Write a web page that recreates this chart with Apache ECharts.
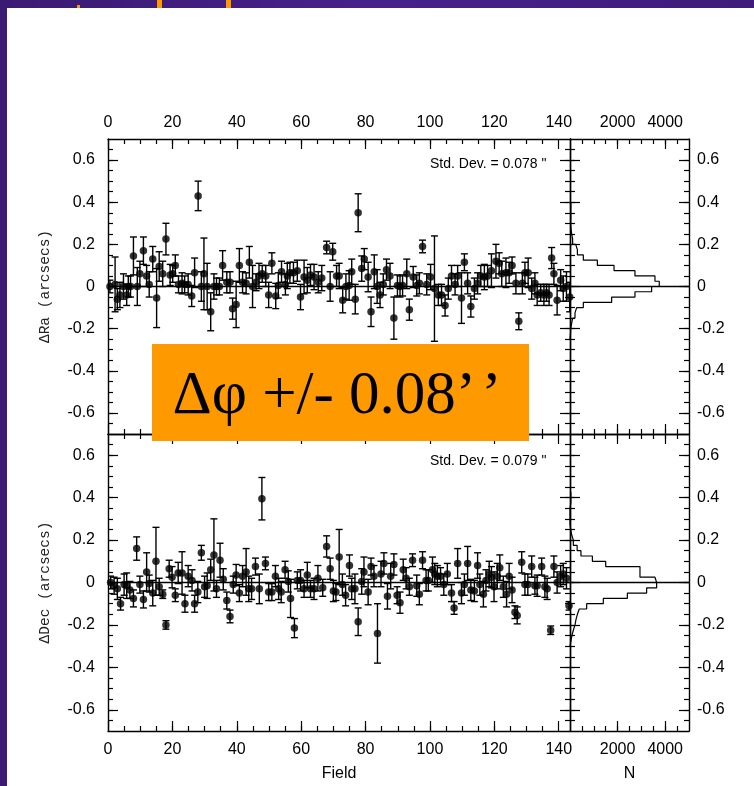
<!DOCTYPE html>
<html><head><meta charset="utf-8">
<script src="https://cdn.jsdelivr.net/npm/echarts@6/dist/echarts.min.js"></script>
<style>
html,body{margin:0;padding:0;background:#3f1f7c;}
#wrap{position:relative;width:754px;height:786px;overflow:hidden;background:linear-gradient(90deg,#3a1a72,#45228a 50%,#3d1c7a);}
#paper{position:absolute;left:7px;top:8px;right:0;bottom:0;background:#fff;}
.frag{position:absolute;background:#ff9900;}
#chart{position:absolute;left:0;top:0;width:754px;height:786px;}
</style></head><body>
<div id="wrap">
<div id="paper"></div>
<div class="frag" style="left:157px;top:0;width:5px;height:8px"></div>
<div class="frag" style="left:226px;top:0;width:5px;height:8px"></div>
<div class="frag" style="left:77px;top:5px;width:3px;height:3px"></div>
<div id="chart"></div>
</div>
<script>
// ---------- data ----------
const raField = [0.6,2.2,2.9,3.7,4.8,5.8,6.3,7.0,7.9,9.1,
 9.9,11.0,12.0,12.8,13.9,15.1,15.9,17.0,18.0,19.3,
 20.1,20.9,21.9,23.0,23.8,24.9,26.0,26.9,28.0,29.0,
 29.8,30.8,31.9,32.9,33.7,34.6,35.6,36.9,37.9,38.7,
 39.8,40.8,41.8,42.9,43.9,44.9,46.0,46.9,47.9,49.0,
 49.9,50.9,52.1,52.9,53.9,55.1,55.7,56.5,57.6,58.8,
 59.8,60.9,61.9,62.9,64.0,65.3,66.4,67.9,69.0,69.8,
 71.0,71.8,72.9,73.9,74.9,75.7,76.8,77.7,78.8,79.6,
 80.8,81.7,82.7,83.6,84.5,85.5,86.5,87.6,88.8,89.9,
 90.7,91.5,92.8,93.6,94.8,95.9,96.7,97.7,99.0,100.2,
 101.4,102.6,103.6,104.7,105.7,106.7,107.8,108.6,109.8,110.7,
 111.7,112.7,113.8,114.8,115.8,116.9,117.9,119.1,120.5,121.5,
 122.3,123.6,124.6,125.5,126.7,127.6,128.7,129.5,130.5,131.6,
 132.6,133.3,134.4,135.4,136.2,137.0,137.8,138.5,139.5,140.6,
 141.4,142.4,143.4];
const raVal = [0.00,0.01,-0.06,-0.04,0.00,-0.04,0.00,0.00,0.145,0.00,
 0.06,0.17,0.05,0.01,0.13,-0.055,0.095,0.06,0.225,0.055,
 0.06,0.10,0.01,0.015,0.01,0.01,-0.045,0.065,0.43,0.00,
 0.06,0.00,-0.12,0.00,0.00,0.00,0.10,0.02,0.02,-0.105,
 -0.085,0.10,0.02,0.015,0.115,0.00,0.02,0.05,0.06,0.05,
 -0.04,0.11,-0.045,0.005,0.07,0.01,0.05,0.065,0.065,0.075,
 -0.05,0.045,0.03,0.055,0.045,0.02,0.04,0.185,0.00,0.165,
 0.05,0.05,-0.065,0.00,0.005,0.07,-0.06,0.35,0.085,0.13,
 0.045,-0.12,0.07,0.00,-0.04,0.01,0.08,0.05,-0.15,0.005,
 0.00,0.005,0.06,-0.11,0.045,0.005,0.015,0.19,0.01,0.045,
 -0.01,-0.04,-0.04,-0.09,-0.01,0.05,0.01,0.05,-0.055,0.115,
 0.015,-0.095,-0.01,0.015,0.05,0.045,0.05,0.075,0.12,0.11,
 0.06,0.065,0.065,0.10,0.015,-0.165,0.015,0.065,0.065,-0.01,
 0.015,-0.04,-0.03,-0.04,-0.03,-0.04,0.135,0.06,-0.065,0.03,
 -0.01,0.00,-0.05];
const raErr = [0.03,0.13,0.05,0.06,0.06,0.05,0.05,0.05,0.09,0.09,
 0.06,0.065,0.05,0.06,0.06,0.14,0.07,0.06,0.075,0.05,
 0.04,0.05,0.04,0.05,0.04,0.05,0.05,0.07,0.07,0.07,
 0.17,0.11,0.09,0.06,0.04,0.04,0.07,0.05,0.05,0.05,
 0.11,0.08,0.05,0.05,0.075,0.10,0.04,0.06,0.04,0.05,
 0.06,0.05,0.06,0.06,0.05,0.05,0.06,0.05,0.05,0.05,
 0.06,0.08,0.06,0.05,0.06,0.05,0.06,0.03,0.07,0.04,
 0.05,0.06,0.06,0.06,0.07,0.06,0.07,0.09,0.06,0.05,
 0.07,0.07,0.08,0.08,0.06,0.05,0.05,0.06,0.10,0.05,
 0.05,0.05,0.07,0.05,0.05,0.05,0.05,0.03,0.05,0.06,
 0.25,0.05,0.05,0.05,0.05,0.05,0.05,0.05,0.12,0.04,
 0.05,0.05,0.05,0.05,0.05,0.06,0.05,0.08,0.08,0.05,
 0.06,0.07,0.05,0.04,0.05,0.04,0.05,0.05,0.07,0.05,
 0.05,0.05,0.04,0.05,0.04,0.05,0.05,0.05,0.07,0.05,
 0.06,0.07,0.07];

const decField = [0.8,1.9,2.9,3.9,5.0,5.8,6.8,7.9,8.9,9.9,
 11.0,12.0,12.8,13.9,14.9,15.9,17.0,18.0,19.0,19.9,
 20.9,21.8,23.0,23.9,24.9,26.1,26.9,27.9,29.0,30.0,
 30.8,31.9,32.9,33.7,34.8,35.8,36.9,37.9,38.9,39.8,
 40.8,41.8,42.9,43.7,44.6,45.8,47.0,47.8,48.9,49.9,
 50.9,52.0,53.0,53.8,55.0,56.0,56.7,57.9,58.8,59.8,
 60.9,61.9,62.9,64.0,65.2,66.7,67.9,69.0,70.0,70.8,
 71.8,72.8,73.8,75.0,75.7,76.7,77.7,78.8,79.5,80.8,
 81.7,82.6,83.7,84.8,85.7,86.8,87.8,88.8,89.8,90.7,
 91.7,92.6,93.6,94.6,95.9,96.7,97.7,98.8,99.5,100.8,
 101.5,102.3,103.3,104.3,105.4,106.7,107.5,108.6,109.8,110.7,
 111.7,112.7,113.8,114.8,115.5,116.6,117.4,118.4,119.1,119.9,
 120.9,121.7,122.8,123.8,124.6,125.5,126.4,127.1,128.5,129.5,
 130.4,131.6,132.6,133.3,134.7,135.7,136.4,137.5,138.5,139.5,
 140.6,141.4,142.4,143.2];
const decVal = [0.00,-0.015,-0.03,-0.10,-0.01,-0.015,-0.035,-0.075,0.16,-0.01,
 -0.08,0.05,-0.005,-0.05,0.10,-0.02,-0.055,-0.20,0.065,0.025,
 -0.06,0.045,0.045,-0.10,0.03,0.01,-0.10,-0.045,0.14,-0.02,
 -0.015,0.06,0.13,-0.03,0.105,0.015,-0.085,-0.16,-0.01,0.035,
 -0.05,0.03,0.05,-0.03,-0.03,0.075,-0.03,0.395,0.09,-0.045,
 -0.045,0.03,-0.03,-0.045,0.06,0.005,-0.075,-0.215,0.01,0.01,
 -0.03,0.035,-0.03,-0.03,0.02,-0.025,0.17,0.065,-0.04,-0.045,
 0.12,-0.01,-0.06,0.08,-0.03,-0.03,-0.185,0.005,0.05,-0.045,
 0.075,0.03,-0.24,0.04,0.09,-0.065,0.03,0.085,-0.06,-0.095,
 0.06,0.02,-0.02,0.105,-0.015,-0.055,0.105,0.01,0.01,0.06,
 0.04,0.03,0.03,-0.01,0.04,-0.05,-0.12,0.09,-0.05,-0.01,
 0.09,-0.035,-0.04,0.08,-0.01,-0.055,0.01,0.04,0.025,-0.02,
 0.03,0.07,-0.02,-0.055,0.03,-0.035,-0.14,-0.155,0.095,-0.01,
 -0.01,0.075,-0.015,-0.015,0.075,-0.02,-0.03,-0.225,0.075,0.00,
 0.03,0.04,0.02,-0.11];
const decErr = [0.03,0.04,0.05,0.03,0.05,0.06,0.04,0.04,0.055,0.04,
 0.04,0.09,0.04,0.06,0.16,0.04,0.02,0.02,0.04,0.05,
 0.03,0.05,0.10,0.04,0.05,0.05,0.04,0.05,0.035,0.05,
 0.06,0.05,0.17,0.04,0.08,0.05,0.04,0.03,0.04,0.05,
 0.04,0.05,0.11,0.06,0.05,0.04,0.07,0.10,0.03,0.04,
 0.04,0.05,0.05,0.05,0.04,0.05,0.09,0.045,0.04,0.05,
 0.04,0.06,0.04,0.05,0.06,0.04,0.05,0.05,0.05,0.04,
 0.13,0.05,0.05,0.05,0.05,0.07,0.065,0.06,0.07,0.06,
 0.04,0.05,0.14,0.06,0.05,0.06,0.06,0.05,0.04,0.05,
 0.05,0.05,0.04,0.03,0.05,0.05,0.04,0.05,0.05,0.06,
 0.05,0.05,0.04,0.05,0.05,0.04,0.03,0.07,0.05,0.05,
 0.08,0.05,0.05,0.06,0.05,0.06,0.05,0.06,0.05,0.07,
 0.06,0.06,0.05,0.06,0.06,0.06,0.03,0.04,0.05,0.05,
 0.05,0.05,0.04,0.05,0.04,0.05,0.05,0.02,0.05,0.05,
 0.05,0.05,0.05,0.02];

// histograms: bin lower edges (width 0.025) and counts N
const histBinWidth = 0.025;
const raHistLo = [-0.25,-0.225,-0.2,-0.175,-0.15,-0.125,-0.1,-0.075,-0.05,-0.025,
 0,0.025,0.05,0.075,0.1,0.125,0.15,0.175,0.2,0.225,0.25,0.275,0.3,0.325,0.35,0.375];
const raHistN = [20,30,70,110,210,280,560,1750,2730,3430,
 3750,3570,2730,1850,1150,560,310,240,110,70,40,30,35,35,35,35];
const decHistLo = [-0.3,-0.275,-0.25,-0.225,-0.2,-0.175,-0.15,-0.125,-0.1,-0.075,-0.05,-0.025,
 0,0.025,0.05,0.075,0.1,0.125,0.15,0.175,0.2,0.225,0.25,0.275,0.3,0.325,0.35,0.375,0.4];
const decHistN = [40,80,140,210,250,310,390,700,1400,2410,3220,3640,
 3570,2940,2940,1500,940,460,300,140,70,30,0,0,0,0,35,35,35];

// ticks / labels
const fieldRange = [0, 143.5];
const nRange = [0, 5000];
const offRange = [-0.7, 0.7];
const fieldMajor = [0,20,40,60,80,100,120,140];
const fieldStep = 5;
const nMajor = [2000,4000];
const nStep = 500;
const offMajor = [-0.6,-0.4,-0.2,0,0.2,0.4,0.6];
const offStep = 0.05;
const stdRa = 'Std. Dev. = 0.078 "';
const stdDec = 'Std. Dev. = 0.079 "';
const boxText = 'Δφ +/- 0.08’\u200A’';

function minorList(lo, hi, step){
  const out=[]; const n=Math.round((hi-lo)/step);
  for(let k=1;k<n;k++){ out.push(+(lo+k*step).toFixed(4)); }
  return out;
}
const fieldMinor = minorList(0, 140, fieldStep);
const nMinor = minorList(0, 5000, nStep);
const offMinor = minorList(-0.7, 0.7, offStep);

// ---------- layout ----------
const grids = [
  {left:108, top:139, width:462, height:295},
  {left:570, top:139, width:119, height:295},
  {left:108, top:434, width:462, height:297},
  {left:570, top:434, width:119, height:297}
];
const FONT = '"Liberation Sans", Arial, Helvetica, sans-serif';
const xAxes=[], yAxes=[];
function mk(grid, pos, range, tickVals, len, labelVals, labelOpt, lineShow, extra){
  const a = {
    type:'value', gridIndex:grid, position:pos, min:range[0], max:range[1],
    axisLine:{show:lineShow, onZero:false, lineStyle:{color:'#000', width:1.4}},
    axisTick:{show:true, inside:true, length:len, customValues:tickVals, lineStyle:{color:'#000', width:1.2}},
    minorTick:{show:false}, splitLine:{show:false},
    axisLabel: labelVals ? Object.assign({show:true, customValues:labelVals, color:'#000',
      fontSize:16, fontFamily:FONT, formatter:function(v){return String(+(+v).toFixed(2));}}, labelOpt||{}) : {show:false}
  };
  if(extra) Object.assign(a, extra);
  return a;
}
const axisRef = [];
for(let g=0; g<4; g++){
  const isMain = g%2===0, isTop = g<2;
  const xr = isMain ? fieldRange : nRange;
  const xMaj = isMain ? fieldMajor : nMajor;
  const xMin = isMain ? fieldMinor : nMinor;
  const nameX = isMain ? 'Field' : 'N';
  xAxes.push(mk(g,'top',xr,xMaj,10, isTop?xMaj:null, {margin:8}, true));
  xAxes.push(mk(g,'top',xr,xMin,5, null, null, false));
  const bx = xAxes.length;
  xAxes.push(mk(g,'bottom',xr,xMaj,10, isTop?null:xMaj, {margin:11}, true,
     isTop?null:{name:nameX, nameLocation:'middle', nameGap:35,
     nameTextStyle:{color:'#000', fontSize:16, fontFamily:FONT}}));
  xAxes.push(mk(g,'bottom',xr,xMin,5, null, null, false));
  const ly = yAxes.length;
  yAxes.push(mk(g,'left',offRange,offMajor,10, isMain?offMajor:null, {margin:13}, true,
     isMain?{name: g===0?'ΔRa (arcsecs)':'ΔDec (arcsecs)', nameLocation:'middle', nameRotate:90, nameGap:55,
     nameTextStyle:{color:'#222', fontSize:14.5, fontFamily:'"Liberation Mono", "DejaVu Sans Mono", monospace'}}:null));
  yAxes.push(mk(g,'left',offRange,offMinor,5, null, null, false));
  yAxes.push(mk(g,'right',offRange,offMajor,10, isMain?null:offMajor, {margin:8}, true));
  yAxes.push(mk(g,'right',offRange,offMinor,5, null, null, false));
  axisRef.push({x:bx, y:ly});
}

function errSeries(ref, fields, vals, errs){
  return {
    type:'custom', xAxisIndex:ref.x, yAxisIndex:ref.y, z:3, clip:true,
    data: fields.map(function(f,i){return [f, vals[i]-errs[i], vals[i]+errs[i]];}),
    encode:{x:0, y:[1,2]},
    renderItem:function(params, api){
      const x = api.value(0);
      const lo = api.coord([x, api.value(1)]);
      const hi = api.coord([x, api.value(2)]);
      const w = 3.5, st = {stroke:'#000', lineWidth:1.4};
      return {type:'group', children:[
        {type:'line', shape:{x1:lo[0],y1:lo[1],x2:hi[0],y2:hi[1]}, style:st},
        {type:'line', shape:{x1:lo[0]-w,y1:lo[1],x2:lo[0]+w,y2:lo[1]}, style:st},
        {type:'line', shape:{x1:hi[0]-w,y1:hi[1],x2:hi[0]+w,y2:hi[1]}, style:st}
      ]};
    }
  };
}
const zeroLine = {silent:true, symbol:'none', label:{show:false},
  lineStyle:{color:'#000', width:1.3, type:'solid'}, data:[{yAxis:0}]};
function pointSeries(ref, fields, vals){
  return {type:'scatter', xAxisIndex:ref.x, yAxisIndex:ref.y, z:4, symbol:'circle', symbolSize:7.5,
    itemStyle:{color:'#000'}, data: fields.map(function(f,i){return [f, vals[i]];}),
    markLine: zeroLine};
}
function histSeries(ref, los, counts){
  const pts = [[0, los[0]]];
  los.forEach(function(lo,i){ pts.push([counts[i], lo]); pts.push([counts[i], +(lo+histBinWidth).toFixed(4)]); });
  pts.push([0, +(los[los.length-1]+histBinWidth).toFixed(4)]);
  return {type:'line', xAxisIndex:ref.x, yAxisIndex:ref.y, data:pts, showSymbol:false, symbol:'none',
    lineStyle:{color:'#000', width:1.2}, z:3, markLine: zeroLine, animation:false};
}

const chart = echarts.init(document.getElementById('chart'), null, {renderer:'canvas'});
chart.setOption({
  backgroundColor:'transparent',
  animation:false,
  grid: grids,
  xAxis: xAxes,
  yAxis: yAxes,
  series: [
    errSeries(axisRef[0], raField, raVal, raErr),
    pointSeries(axisRef[0], raField, raVal),
    histSeries(axisRef[1], raHistLo, raHistN),
    errSeries(axisRef[2], decField, decVal, decErr),
    pointSeries(axisRef[2], decField, decVal),
    histSeries(axisRef[3], decHistLo, decHistN)
  ],
  graphic: [
    {type:'text', left:430, top:157, z:10, style:{text:stdRa, fontSize:14, fontFamily:FONT, fill:'#000'}},
    {type:'text', left:430, top:454, z:10, style:{text:stdDec, fontSize:14, fontFamily:FONT, fill:'#000'}},
    {type:'rect', z:100, shape:{x:152, y:344, width:377, height:97}, style:{fill:'#ff9900'}},
    {type:'text', z:101, x:337, y:397, style:{text:boxText, fontSize:61,
      fontFamily:'"Liberation Serif", "Times New Roman", serif', fill:'#000', textAlign:'center', textVerticalAlign:'middle'}}
  ]
});
</script>
</body></html>
